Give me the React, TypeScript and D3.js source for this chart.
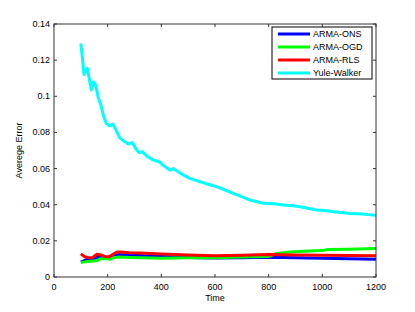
import React from 'react';
import * as d3 from 'd3';

const W = 415;
const H = 312;
const margin = { top: 24, right: 39, bottom: 35, left: 54 };

const xTicks = [0, 200, 400, 600, 800, 1000, 1200];
const yTicks = [0, 0.02, 0.04, 0.06, 0.08, 0.1, 0.12, 0.14];
const yTickLabels = ['0', '0.02', '0.04', '0.06', '0.08', '0.1', '0.12', '0.14'];

// Yule-Walker
const ywTime = [100, 106, 112, 118, 124, 130, 139, 147, 155, 160, 164, 175, 185, 195, 208, 220, 232, 245, 264, 276, 292, 305, 317, 329, 345, 369, 392, 410, 432, 444, 470, 506, 543, 575, 606, 640, 668, 700, 730, 760, 780, 820, 855, 890, 917, 950, 979, 1016, 1060, 1103, 1150, 1200];
const ywVals = [0.1292, 0.121, 0.112, 0.114, 0.1155, 0.111, 0.1035, 0.108, 0.1063, 0.103, 0.0998, 0.095, 0.089, 0.085, 0.0836, 0.0847, 0.081, 0.077, 0.0749, 0.0736, 0.0744, 0.071, 0.0688, 0.0694, 0.067, 0.0648, 0.0638, 0.0615, 0.0592, 0.060, 0.0575, 0.0546, 0.0528, 0.0513, 0.050, 0.048, 0.0463, 0.0445, 0.0426, 0.0415, 0.0408, 0.0405, 0.0399, 0.0394, 0.0389, 0.0379, 0.0371, 0.0367, 0.0358, 0.0352, 0.0349, 0.0341];

// ARMA-RLS
const rlsTime = [100, 115, 130, 145, 160, 175, 190, 205, 220, 235, 250, 280, 320, 400, 450, 500, 600, 700, 800, 900, 1000, 1100, 1200];
const rlsVals = [0.0128, 0.0112, 0.0106, 0.0108, 0.0126, 0.0122, 0.0114, 0.0112, 0.0125, 0.0138, 0.0138, 0.0134, 0.0133, 0.0127, 0.0124, 0.0122, 0.0118, 0.0120, 0.0124, 0.0122, 0.0120, 0.0119, 0.0118];

// ARMA-ONS
const onsTime = [100, 120, 140, 160, 180, 200, 220, 240, 280, 340, 400, 500, 600, 700, 800, 900, 1000, 1100, 1200];
const onsVals = [0.0082, 0.0095, 0.0098, 0.0108, 0.0110, 0.0108, 0.0115, 0.0124, 0.0121, 0.0118, 0.0114, 0.0108, 0.0105, 0.0107, 0.0109, 0.0107, 0.0104, 0.0101, 0.0098];

// ARMA-OGD
const ogdTime = [100, 120, 140, 160, 170, 190, 210, 220, 240, 280, 330, 400, 500, 600, 700, 800, 830, 880, 950, 1000, 1020, 1100, 1200];
const ogdVals = [0.0080, 0.0085, 0.0088, 0.0090, 0.0100, 0.0102, 0.0098, 0.0106, 0.0110, 0.0108, 0.0106, 0.0104, 0.0106, 0.0106, 0.0110, 0.0114, 0.0130, 0.0138, 0.0144, 0.0146, 0.0152, 0.0154, 0.0158];

const seriesNames = ['ARMA-ONS', 'ARMA-OGD', 'ARMA-RLS', 'Yule-Walker'];
const seriesColors = ['#0000ff', '#00ff00', '#ff0000', '#00ffff'];

const zip = (t: number[], v: number[]) => t.map((d, i) => [d, v[i]] as [number, number]);

export default function App() {
  const iw = W - margin.left - margin.right;
  const ih = H - margin.top - margin.bottom;
  const x = d3.scaleLinear().domain([0, 1200]).range([0, iw]);
  const y = d3.scaleLinear().domain([0, 0.14]).range([ih, 0]);
  const line = d3.line<[number, number]>().x(d => x(d[0])).y(d => y(d[1]));

  // draw order: yule-walker, then ons, ogd, rls (red on top)
  const lines = [
    { data: zip(ywTime, ywVals), color: seriesColors[3] },
    { data: zip(onsTime, onsVals), color: seriesColors[0] },
    { data: zip(ogdTime, ogdVals), color: seriesColors[1] },
    { data: zip(rlsTime, rlsVals), color: seriesColors[2] },
  ];

  const font = 'Liberation Sans, Arial, sans-serif';
  const legX = 272 - margin.left;
  const legY = 27 - margin.top;

  return (
    <svg width={W} height={H} style={{ position: 'absolute', left: 0, top: 0 }} fontFamily={font}>
      <rect width={W} height={H} fill="#fff" />
      <g transform={`translate(${margin.left},${margin.top})`}>
        {lines.map((l, i) => (
          <path key={i} d={line(l.data) || ''} fill="none" stroke={l.color} strokeWidth={3} strokeLinejoin="round" />
        ))}
        <rect x={0} y={0} width={iw} height={ih} fill="none" stroke="#333" strokeWidth={1} />
        {xTicks.map(t => (
          <g key={t}>
            <line x1={x(t)} x2={x(t)} y1={ih} y2={ih - 3} stroke="#333" />
            <line x1={x(t)} x2={x(t)} y1={0} y2={3} stroke="#333" />
            <text x={x(t)} y={ih + 13} fontSize={9} textAnchor="middle" fill="#000">{t}</text>
          </g>
        ))}
        {yTicks.map((t, i) => (
          <g key={t}>
            <line x1={0} x2={3} y1={y(t)} y2={y(t)} stroke="#333" />
            <line x1={iw} x2={iw - 3} y1={y(t)} y2={y(t)} stroke="#333" />
            <text x={-4} y={y(t) + 3} fontSize={9} textAnchor="end" fill="#000">{yTickLabels[i]}</text>
          </g>
        ))}
        <text x={iw / 2} y={ih + 24} fontSize={9} textAnchor="middle">Time</text>
        <text transform={`translate(${-32},${ih / 2}) rotate(-90)`} fontSize={9} textAnchor="middle">Averege Error</text>
        <g transform={`translate(${legX},${legY})`}>
          <rect x={0} y={0} width={100} height={52} fill="#fff" stroke="#000" strokeWidth={1} />
          {seriesNames.map((n, i) => (
            <g key={n} transform={`translate(0,${7 + i * 13})`}>
              <line x1={6} x2={38} y1={0} y2={0} stroke={seriesColors[i]} strokeWidth={3} />
              <text x={41} y={3} fontSize={9}>{n}</text>
            </g>
          ))}
        </g>
      </g>
    </svg>
  );
}
